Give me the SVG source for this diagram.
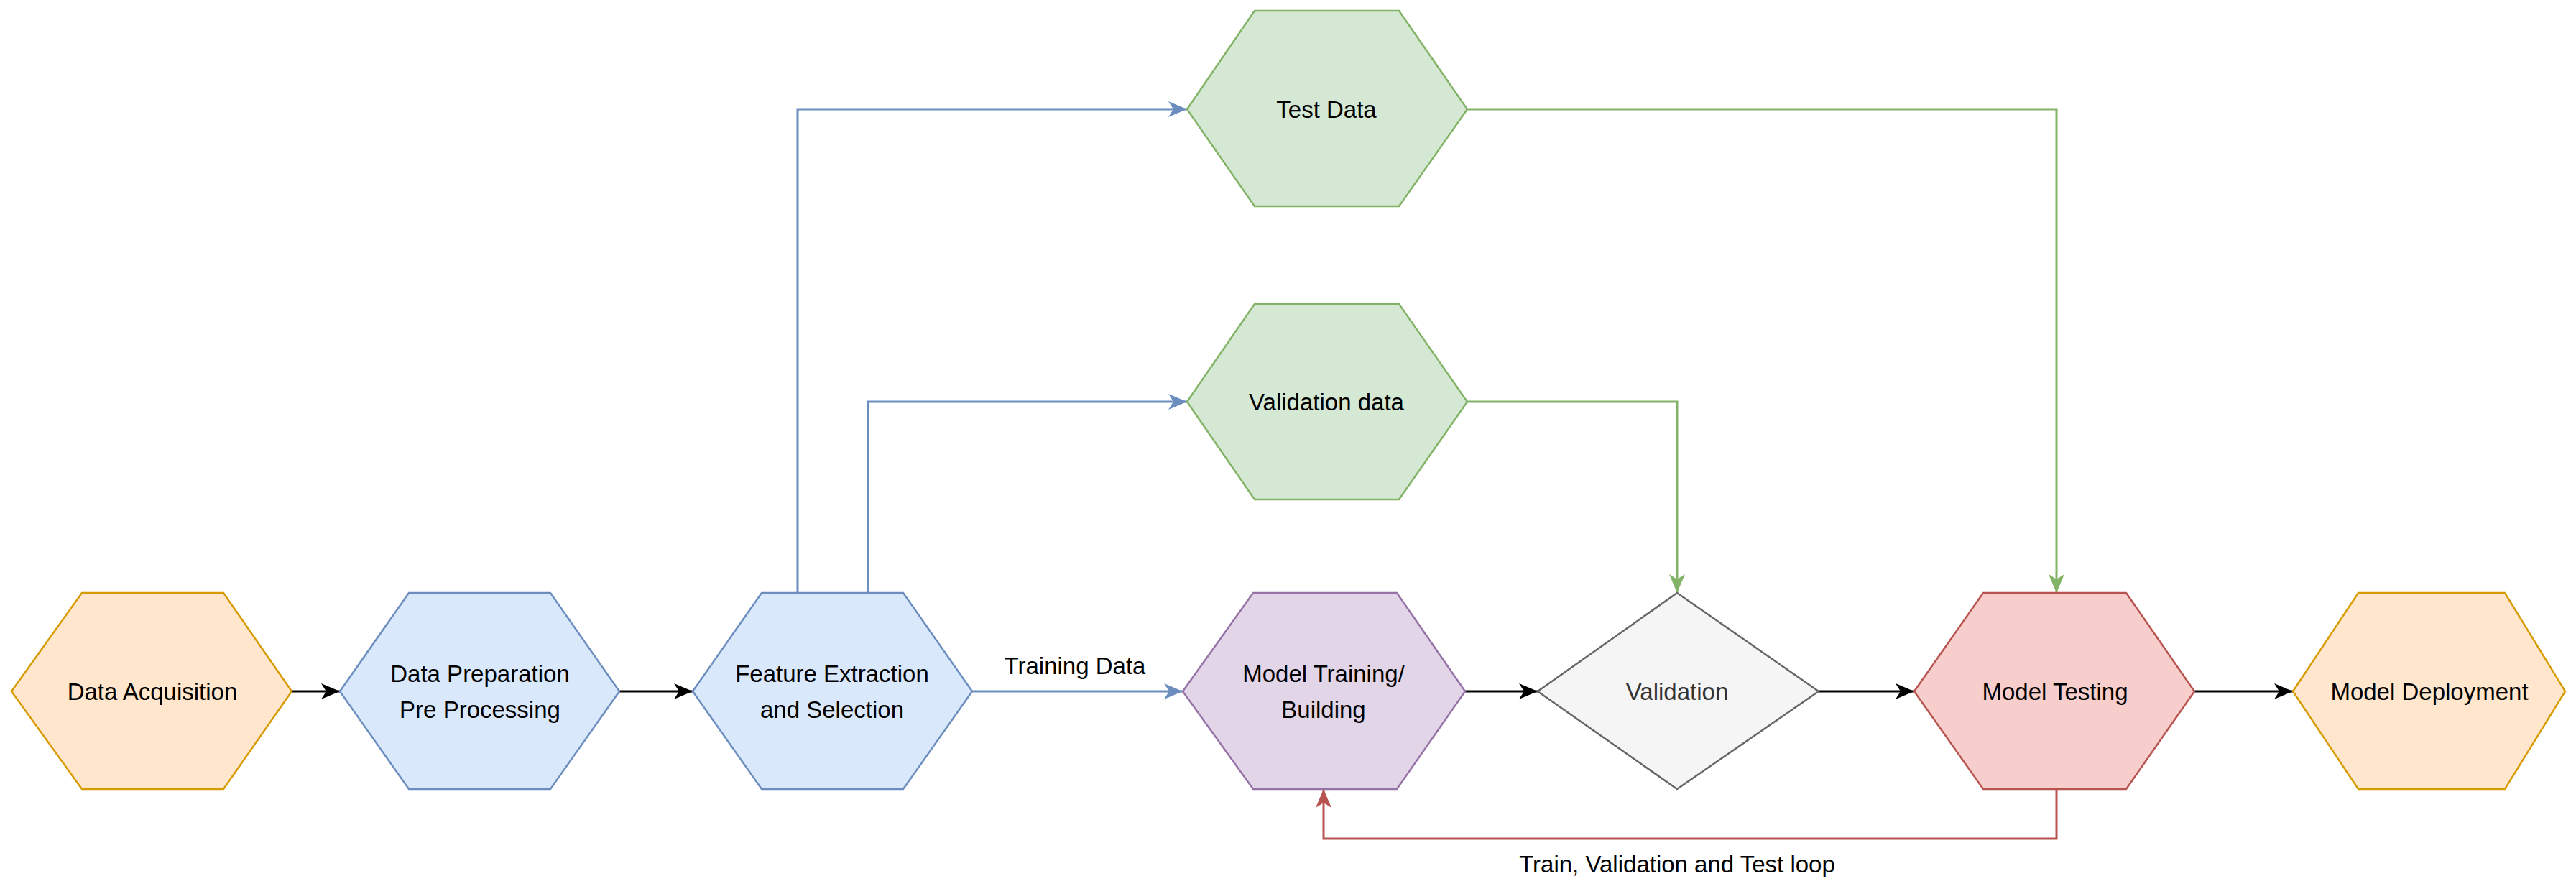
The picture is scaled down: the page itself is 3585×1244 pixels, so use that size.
<svg xmlns="http://www.w3.org/2000/svg" width="3585" height="1244" viewBox="0 0 3585 1244">
<style>
text{font-family:"Liberation Sans",Arial,sans-serif;font-size:33px;fill:#000;text-anchor:middle;dominant-baseline:central}
.n{stroke-width:2.5}
.c{fill:none;stroke-width:3}
</style>
<defs>
<marker id="ak" markerUnits="userSpaceOnUse" markerWidth="30" markerHeight="30" viewBox="0 0 30 30" refX="28" refY="15" orient="auto"><path d="M2,4 L28,15 L2,26 L9,15 Z" fill="#000"/></marker>
<marker id="ab" markerUnits="userSpaceOnUse" markerWidth="30" markerHeight="30" viewBox="0 0 30 30" refX="28" refY="15" orient="auto"><path d="M2,4 L28,15 L2,26 L9,15 Z" fill="#6c8ebf"/></marker>
<marker id="ag" markerUnits="userSpaceOnUse" markerWidth="30" markerHeight="30" viewBox="0 0 30 30" refX="28" refY="15" orient="auto"><path d="M2,4 L28,15 L2,26 L9,15 Z" fill="#82b366"/></marker>
<marker id="ar" markerUnits="userSpaceOnUse" markerWidth="30" markerHeight="30" viewBox="0 0 30 30" refX="28" refY="15" orient="auto"><path d="M2,4 L28,15 L2,26 L9,15 Z" fill="#b85450"/></marker>
</defs>
<g id="connectors">
<path class="c" stroke="#000" d="M406,962 L473,962" marker-end="url(#ak)"/>
<path class="c" stroke="#000" d="M862,962 L964,962" marker-end="url(#ak)"/>
<path class="c" stroke="#6c8ebf" d="M1353,962 L1646,962" marker-end="url(#ab)"/>
<text x="1496" y="926">Training Data</text>
<path class="c" stroke="#000" d="M2039,962 L2140,962" marker-end="url(#ak)"/>
<path class="c" stroke="#000" d="M2531,962 L2664,962" marker-end="url(#ak)"/>
<path class="c" stroke="#000" d="M3054,962 L3191,962" marker-end="url(#ak)"/>
<path class="c" stroke="#6c8ebf" d="M1110,825 L1110,152 L1652,152" marker-end="url(#ab)"/>
<path class="c" stroke="#6c8ebf" d="M1208,825 L1208,559 L1652,559" marker-end="url(#ab)"/>
<path class="c" stroke="#82b366" d="M2042,152 L2862,152 L2862,825" marker-end="url(#ag)"/>
<path class="c" stroke="#82b366" d="M2042,559 L2334,559 L2334,825" marker-end="url(#ag)"/>
<path class="c" stroke="#b85450" d="M2862,1098 L2862,1167 L1842,1167 L1842,1098" marker-end="url(#ar)"/>
<text x="2334" y="1202">Train, Validation and Test loop</text>
</g>
<g id="data-acquisition"><polygon class="n" fill="#ffe6cc" stroke="#d79b00" points="16,962 114,825 311,825 406,962 311,1098 114,1098"/><text x="212" y="962">Data Acquisition</text></g>
<g id="data-preparation"><polygon class="n" fill="#dae8fc" stroke="#6c8ebf" points="473,962 569,825 766,825 862,962 766,1098 569,1098"/><text x="668" y="937">Data Preparation</text><text x="668" y="987">Pre Processing</text></g>
<g id="feature-extraction"><polygon class="n" fill="#dae8fc" stroke="#6c8ebf" points="964,962 1060,825 1257,825 1353,962 1257,1098 1060,1098"/><text x="1158" y="937">Feature Extraction</text><text x="1158" y="987">and Selection</text></g>
<g id="test-data"><polygon class="n" fill="#d5e8d4" stroke="#82b366" points="1652,152 1746,15 1947,15 2042,152 1947,287 1746,287"/><text x="1846" y="152">Test Data</text></g>
<g id="validation-data"><polygon class="n" fill="#d5e8d4" stroke="#82b366" points="1652,559 1746,423 1947,423 2042,559 1947,695 1746,695"/><text x="1846" y="559">Validation data</text></g>
<g id="model-training"><polygon class="n" fill="#e1d5e7" stroke="#9673a6" points="1646,962 1744,825 1944,825 2039,962 1944,1098 1744,1098"/><text x="1842" y="937">Model Training/</text><text x="1842" y="987">Building</text></g>
<g id="validation"><polygon class="n" fill="#f5f5f5" stroke="#666666" points="2140,962 2334,825 2531,962 2334,1098"/><text x="2334" y="962" style="fill:#333">Validation</text></g>
<g id="model-testing"><polygon class="n" fill="#f8cecc" stroke="#b85450" points="2664,962 2760,825 2959,825 3054,962 2959,1098 2760,1098"/><text x="2860" y="962">Model Testing</text></g>
<g id="model-deployment"><polygon class="n" fill="#ffe6cc" stroke="#d79b00" points="3191,962 3282,825 3486,825 3570,962 3486,1098 3282,1098"/><text x="3381" y="962">Model Deployment</text></g>
</svg>
